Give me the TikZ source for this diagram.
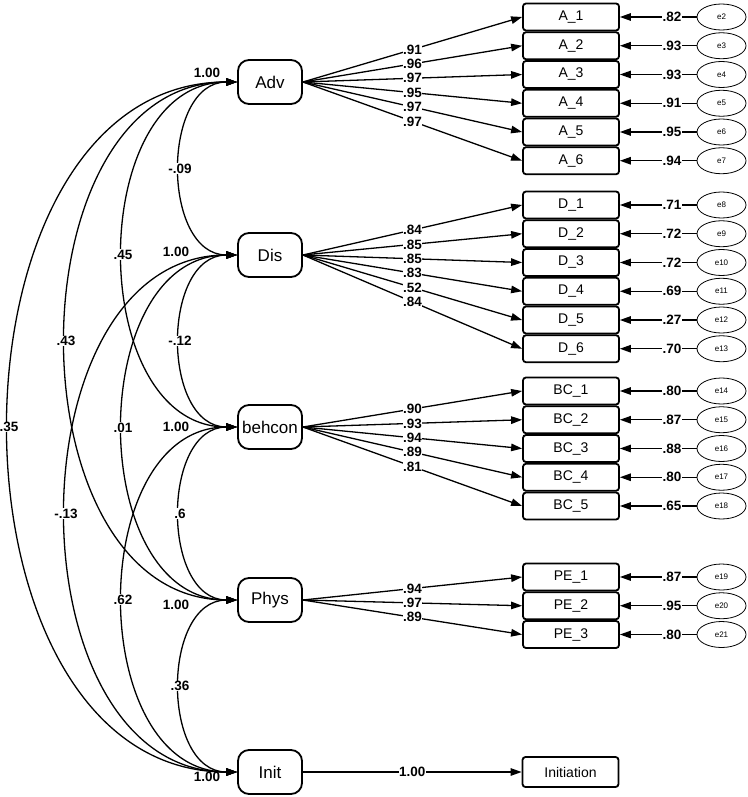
\documentclass[tikz,border=0pt]{standalone}
\usepackage{fontspec}
\setmainfont{Liberation Sans}
\usetikzlibrary{arrows.meta,shapes.geometric}
\begin{document}
\begin{tikzpicture}[x=1pt,y=-1pt,
  lat/.style={draw, line width=1.8pt, rounded corners=11pt, minimum width=64pt, minimum height=44pt, inner sep=0pt, font=\fontsize{17}{17}\selectfont},
  ind/.style={draw, line width=1.8pt, rounded corners=3pt, minimum width=96pt, minimum height=27pt, inner sep=0pt, font=\fontsize{14}{14}\selectfont},
  err/.style={draw, ellipse, line width=0.8pt, minimum width=49pt, minimum height=26pt, inner sep=0pt, font=\fontsize{8}{8}\selectfont},
  val/.style={fill=white, inner sep=0.3pt, font=\bfseries\fontsize{13.5}{13.5}\selectfont},
  varlab/.style={inner sep=0pt, font=\bfseries\fontsize{13.5}{13.5}\selectfont},
  tip/.tip={Triangle[length=11pt,width=7.5pt]},
  arr/.style={line width=1.3pt, -tip},
  cov/.style={line width=1.3pt, tip-tip},
]
\useasboundingbox (0,0) rectangle (747,797);

% latent variables
\node[lat] (Adv) at (270,82) {Adv};
\node[lat] (Dis) at (270,255) {Dis};
\node[lat] (Beh) at (270,427) {behcon};
\node[lat] (Phys) at (270,600) {Phys};
\node[lat] (Init) at (270,772) {Init};

% variance labels
\node[varlab] (vAdv) at (207,73) {1.00};
\node[varlab] (vDis) at (176,252) {1.00};
\node[varlab] (vBeh) at (176,427) {1.00};
\node[varlab] (vPhys) at (176,605) {1.00};
\node[varlab] (vInit) at (207,777) {1.00};

% Adv indicators
\foreach \i/\y/\l/\e/\en in {1/17/.91/.82/e2, 2/45.75/.96/.93/e3, 3/74.5/.97/.93/e4, 4/103.25/.95/.91/e5, 5/132/.97/.95/e6, 6/160.75/.97/.94/e7}{
  \node[ind] (A\i) at (571,\y) {A\_\i};
  \node[err] (eA\i) at (721.5,\y) {\en};
  \draw[arr] (Adv.east) -- node[val]{\l} (A\i.west);
  \draw[arr] (eA\i.west) -- node[val,pos=0.32]{\e} (A\i.east);
}
% Dis indicators
\foreach \i/\y/\l/\e/\en in {1/205/.84/.71/e8, 2/233.75/.85/.72/e9, 3/262.5/.85/.72/e10, 4/291.25/.83/.69/e11, 5/320/.52/.27/e12, 6/348.75/.84/.70/e13}{
  \node[ind] (D\i) at (571,\y) {D\_\i};
  \node[err] (eD\i) at (721.5,\y) {\en};
  \draw[arr] (Dis.east) -- node[val]{\l} (D\i.west);
  \draw[arr] (eD\i.west) -- node[val,pos=0.32]{\e} (D\i.east);
}
% behcon indicators
\foreach \i/\y/\l/\e/\en in {1/391/.90/.80/e14, 2/419.75/.93/.87/e15, 3/448.5/.94/.88/e16, 4/477.25/.89/.80/e17, 5/506/.81/.65/e18}{
  \node[ind] (BC\i) at (571,\y) {BC\_\i};
  \node[err] (eBC\i) at (721.5,\y) {\en};
  \draw[arr] (Beh.east) -- node[val]{\l} (BC\i.west);
  \draw[arr] (eBC\i.west) -- node[val,pos=0.32]{\e} (BC\i.east);
}
% Phys indicators
\foreach \i/\y/\l/\e/\en in {1/577/.94/.87/e19, 2/605.75/.97/.95/e20, 3/634.5/.89/.80/e21}{
  \node[ind] (PE\i) at (571,\y) {PE\_\i};
  \node[err] (ePE\i) at (721.5,\y) {\en};
  \draw[arr] (Phys.east) -- node[val]{\l} (PE\i.west);
  \draw[arr] (ePE\i.west) -- node[val,pos=0.32]{\e} (PE\i.east);
}
% Init indicator
\node[ind, minimum height=30pt] (Initiation) at (570.5,772) {Initiation};
\draw[arr] (Init.east) -- node[val]{1.00} (Initiation.west);

% covariances
\draw[cov] (Adv.west) .. controls +(-304,0) and +(-304,0) .. node[val]{.35} (Init.west);
\draw[cov] (Adv.west) .. controls +(-228,0) and +(-228,0) .. node[val]{.43} (Phys.west);
\draw[cov] (Dis.west) .. controls +(-228,0) and +(-228,0) .. node[val]{-.13} (Init.west);
\draw[cov] (Adv.west) .. controls +(-152,0) and +(-152,0) .. node[val]{.45} (Beh.west);
\draw[cov] (Dis.west) .. controls +(-152,0) and +(-152,0) .. node[val]{.01} (Phys.west);
\draw[cov] (Beh.west) .. controls +(-152,0) and +(-152,0) .. node[val]{.62} (Init.west);
\draw[cov] (Adv.west) .. controls +(-76,0) and +(-76,0) .. node[val]{-.09} (Dis.west);
\draw[cov] (Dis.west) .. controls +(-76,0) and +(-76,0) .. node[val]{-.12} (Beh.west);
\draw[cov] (Beh.west) .. controls +(-76,0) and +(-76,0) .. node[val]{.6} (Phys.west);
\draw[cov] (Phys.west) .. controls +(-76,0) and +(-76,0) .. node[val]{.36} (Init.west);
\end{tikzpicture}
\end{document}
